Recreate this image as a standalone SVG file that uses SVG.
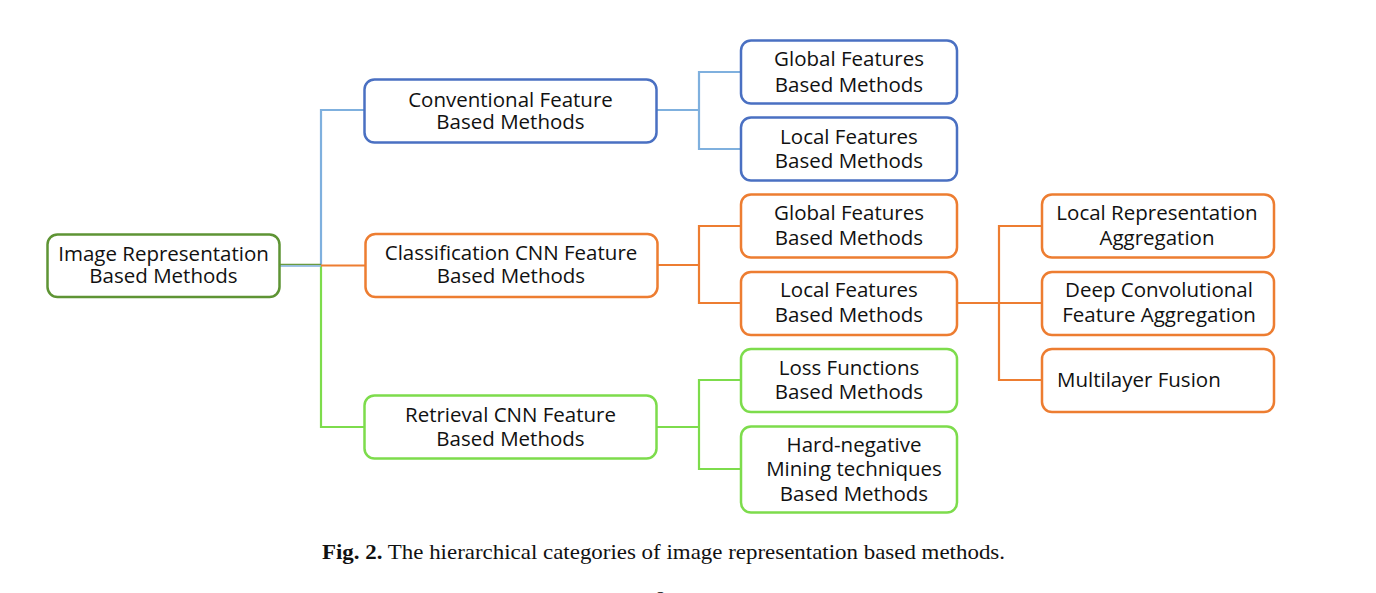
<svg xmlns="http://www.w3.org/2000/svg" width="1376" height="593" viewBox="0 0 1376 593">
<style>
.box{fill:#fff;stroke-width:2.5}
.b{stroke:#4A70C2}
.o{stroke:#ED7D31}
.g{stroke:#7DDC4C}
.r{stroke:#5E9434}
.t{font-family:"Open Sans","Noto Sans",sans-serif;font-size:20.5px;fill:#111;text-anchor:middle}
.cb{stroke:#7FB0DE;stroke-width:2.2;fill:none}
.co{stroke:#ED7D31;stroke-width:2.2;fill:none}
.cg{stroke:#7DDC4C;stroke-width:2.2;fill:none}
.cap{font-family:"Liberation Serif",serif;font-size:21.5px;fill:#111}
</style>
<rect width="1376" height="593" fill="#fff"/>
<g id="connectors">
<path class="cb" d="M321,266 V110 H364"/>
<path class="cg" d="M321,266 V427 H364"/>
<path class="co" d="M321,265.5 H365"/>
<line x1="280" y1="264.5" x2="321" y2="264.5" stroke="#6A9A40" stroke-width="1.5"/>
<line x1="280" y1="266" x2="321" y2="266" stroke="#7FB0DE" stroke-width="1.5"/>
<path class="cb" d="M657,110 H699 M741,72 H699 V149 H741"/>
<path class="co" d="M658,265 H699 M741,226 H699 V303 H741"/>
<path class="co" d="M957,303 H999 M1042,226 H999 V380 H1042 M999,303 H1042"/>
<path class="cg" d="M657,427 H699 M741,380 H699 V469 H741"/>
</g>
<g id="root"><rect class="box r" x="47.5" y="234.5" width="232" height="62.5" rx="10"/>
<text class="t" x="163.5" y="261">Image Representation</text><text class="t" x="163.5" y="283">Based Methods</text></g>
<g id="conventional"><rect class="box b" x="364.5" y="79.5" width="292" height="63" rx="10"/>
<text class="t" x="510.5" y="107">Conventional Feature</text><text class="t" x="510.5" y="129">Based Methods</text></g>
<g id="classification"><rect class="box o" x="365.5" y="234" width="292" height="63" rx="10"/>
<text class="t" x="511" y="260">Classification CNN Feature</text><text class="t" x="511" y="283">Based Methods</text></g>
<g id="retrieval"><rect class="box g" x="364.5" y="395.5" width="292" height="63" rx="10"/>
<text class="t" x="510.5" y="422">Retrieval CNN Feature</text><text class="t" x="510.5" y="446">Based Methods</text></g>
<g id="conv-global"><rect class="box b" x="741" y="40.5" width="216" height="63" rx="10"/>
<text class="t" x="849" y="66">Global Features</text><text class="t" x="849" y="92">Based Methods</text></g>
<g id="conv-local"><rect class="box b" x="741" y="117.5" width="216" height="63" rx="10"/>
<text class="t" x="849" y="144">Local Features</text><text class="t" x="849" y="168">Based Methods</text></g>
<g id="cls-global"><rect class="box o" x="741" y="194.5" width="216" height="63" rx="10"/>
<text class="t" x="849" y="220">Global Features</text><text class="t" x="849" y="245">Based Methods</text></g>
<g id="cls-local"><rect class="box o" x="741" y="272" width="216" height="63" rx="10"/>
<text class="t" x="849" y="297">Local Features</text><text class="t" x="849" y="322">Based Methods</text></g>
<g id="loss"><rect class="box g" x="741" y="349" width="216" height="63" rx="10"/>
<text class="t" x="849" y="375">Loss Functions</text><text class="t" x="849" y="399">Based Methods</text></g>
<g id="hardneg"><rect class="box g" x="741" y="426.5" width="216" height="86" rx="10"/>
<text class="t" x="854" y="452">Hard-negative</text><text class="t" x="854" y="476">Mining techniques</text><text class="t" x="854" y="501">Based Methods</text></g>
<g id="local-rep"><rect class="box o" x="1042" y="194.5" width="232" height="63" rx="10"/>
<text class="t" x="1157" y="220">Local Representation</text><text class="t" x="1157" y="245">Aggregation</text></g>
<g id="deep-conv"><rect class="box o" x="1042" y="272" width="232" height="63" rx="10"/>
<text class="t" x="1159" y="297">Deep Convolutional</text><text class="t" x="1159" y="322">Feature Aggregation</text></g>
<g id="multilayer"><rect class="box o" x="1042" y="349" width="232" height="63" rx="10"/>
<text class="t" x="1057" y="387" style="text-anchor:start">Multilayer Fusion</text></g>
<text class="cap" x="322" y="559" textLength="683" lengthAdjust="spacingAndGlyphs"><tspan font-weight="bold">Fig. 2.</tspan> The hierarchical categories of image representation based methods.</text>
<text class="cap" x="655" y="606">8</text>
</svg>
